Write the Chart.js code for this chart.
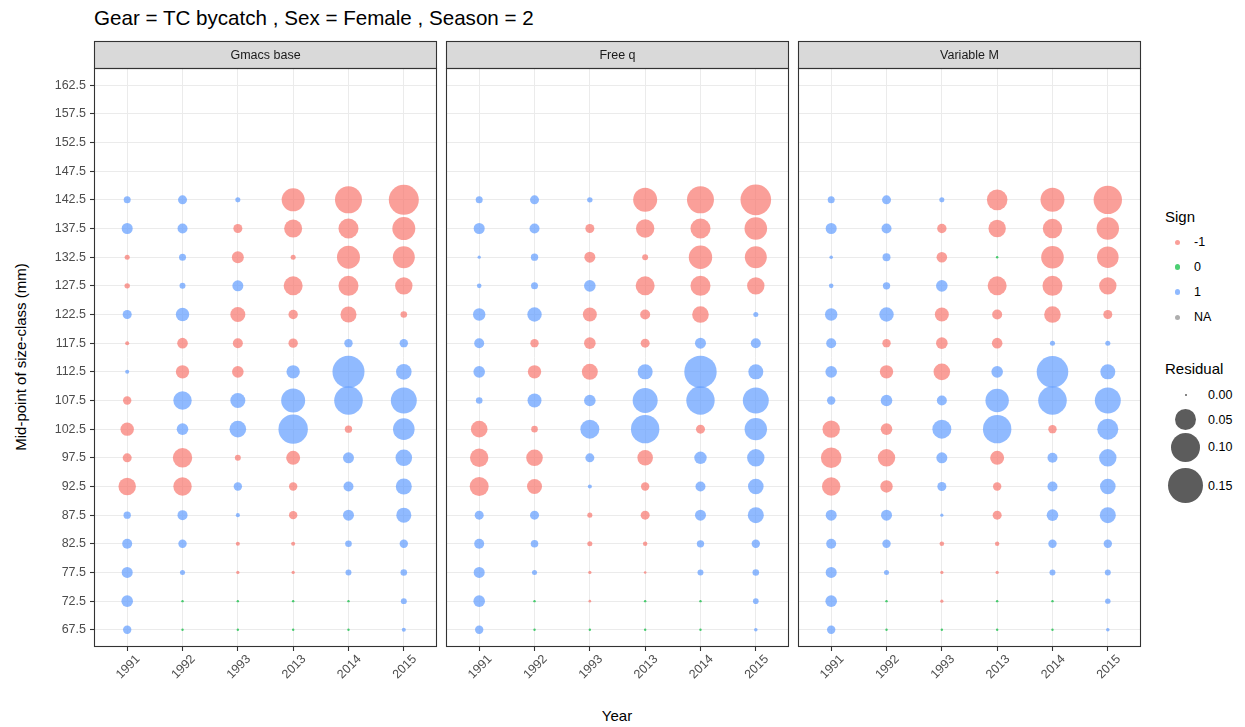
<!DOCTYPE html>
<html>
<head>
<meta charset="utf-8">
<script src="https://cdn.jsdelivr.net/npm/chart.js@4/dist/chart.umd.min.js"></script>
<style>
  body { margin: 0; background: #fff; font-family: "Liberation Sans", Arial, sans-serif; }
  #wrap { position: relative; width: 1245px; height: 727px; overflow: hidden; }
  canvas { position: absolute; }
  .txt { position: absolute; white-space: nowrap; }
  .dot { position: absolute; border-radius: 50%; }
</style>
</head>
<body>
<div id="wrap">
  <div class="txt" style="left:94px; top:7px; font-size:20.6px; line-height:22px; color:#000;">Gear = TC bycatch , Sex = Female , Season = 2</div>
  <div class="txt" style="left:20px; top:357px; font-size:15px; color:#000; transform:translate(-50%,-50%) rotate(-90deg);">Mid-point of size-class (mm)</div>
  <div class="txt" style="left:617px; top:715px; font-size:15px; color:#000; transform:translate(-50%,-50%);">Year</div>
  <canvas id="panel0" width="439" height="657" style="left:0px; top:40px;"></canvas>
  <canvas id="panel1" width="347" height="657" style="left:444px; top:40px;"></canvas>
  <canvas id="panel2" width="347" height="657" style="left:796px; top:40px;"></canvas>
  <div id="legend"></div>
</div>
<script>
// Categories
const years = ['1991', '1992', '1993', '2013', '2014', '2015'];
const sizeTicks = [67.5, 72.5, 77.5, 82.5, 87.5, 92.5, 97.5, 102.5, 107.5, 112.5, 117.5, 122.5, 127.5, 132.5, 137.5, 142.5, 147.5, 152.5, 157.5, 162.5];
// rows of the residual tables (top to bottom)
const binMids = [142.5, 137.5, 132.5, 127.5, 122.5, 117.5, 112.5, 107.5, 102.5, 97.5, 92.5, 87.5, 82.5, 77.5, 72.5, 67.5];
const panelNames = ['Gmacs base', 'Free q', 'Variable M'];

// Signed residuals, one row per size class, one column per year
const gmacsBase = [
    [0.003, 0.0062, 0.001, -0.060, -0.086, -0.108],
    [0.0105, 0.0082, -0.0062, -0.0345, -0.0439, -0.060],
    [-0.001, 0.003, -0.013, -0.001, -0.060, -0.0544],
    [-0.0013, 0.0018, 0.0105, -0.039, -0.0439, -0.0319],
    [0.0062, 0.0171, -0.0225, -0.0069, -0.0262, -0.0025],
    [-0.0004, -0.0095, -0.0082, -0.0069, 0.0051, 0.0051],
    [0.0004, -0.0171, -0.012, 0.0171, 0.1242, 0.0247],
    [-0.0051, 0.0363, 0.0225, 0.0661, 0.0973, 0.0789],
    [-0.0171, 0.012, 0.0286, 0.1033, -0.0035, 0.0522],
    [-0.0062, -0.041, -0.0018, -0.019, 0.0105, 0.0286],
    [-0.0319, -0.0363, 0.0051, -0.0051, 0.0082, 0.0262],
    [0.0035, 0.0082, 0.0004, -0.0051, 0.0105, 0.0225],
    [0.0082, 0.0051, -0.0004, -0.0004, 0.0025, 0.0051],
    [0.0105, 0.001, -0.0001, -0.0001, 0.0018, 0.0025],
    [0.012, 0, 0, 0, 0, 0.0018],
    [0.0051, 0, 0, 0, 0, 0.0004]
];

const freeQ = [
    [0.003, 0.0062, 0.0013, -0.0661, -0.0858, -0.1127],
    [0.0105, 0.0082, -0.0062, -0.0363, -0.0439, -0.0578],
    [0.0001, 0.0035, -0.0105, -0.0018, -0.0625, -0.0544],
    [0.0007, 0.003, 0.012, -0.039, -0.0439, -0.0319],
    [0.0142, 0.0204, -0.019, -0.0082, -0.0286, 0.001],
    [0.0082, -0.0051, -0.012, -0.0062, 0.0105, 0.0082],
    [0.012, -0.0171, -0.0262, 0.0225, 0.1276, 0.0225],
    [0.0025, 0.019, 0.012, 0.0724, 0.0958, 0.0789],
    [-0.0286, -0.0025, 0.039, 0.0958, -0.0062, 0.0567],
    [-0.0363, -0.0286, 0.0062, -0.0247, 0.0142, 0.0319],
    [-0.039, -0.0225, 0.0004, -0.0051, 0.0082, 0.0247],
    [0.0062, 0.0062, -0.001, -0.0062, 0.0105, 0.0262],
    [0.0082, 0.0038, -0.001, -0.0006, 0.0035, 0.0051],
    [0.0105, 0.001, -0.0001, -0.00001, 0.0018, 0.0025],
    [0.012, 0, -0.00001, 0, 0, 0.0015],
    [0.0051, 0, 0, 0, 0, 0.0002]
];

const variableM = [
    [0.003, 0.0062, 0.001, -0.0469, -0.0661, -0.0958],
    [0.0105, 0.0082, -0.0069, -0.0319, -0.041, -0.0567],
    [0.0002, 0.0044, -0.0095, 0, -0.0578, -0.0522],
    [0.0007, 0.0035, 0.012, -0.039, -0.0439, -0.0319],
    [0.0142, 0.0204, -0.019, -0.0082, -0.0286, -0.0062],
    [0.0082, -0.0051, -0.012, -0.0095, 0.001, 0.001],
    [0.012, -0.0171, -0.0286, 0.012, 0.1208, 0.0225],
    [0.0051, 0.012, 0.0082, 0.0625, 0.0973, 0.0789],
    [-0.0319, -0.012, 0.039, 0.0958, -0.0051, 0.049],
    [-0.0469, -0.0319, 0.0105, -0.019, 0.0082, 0.0319],
    [-0.0363, -0.0142, 0.0062, -0.0051, 0.0082, 0.0247],
    [0.0105, 0.0105, 0.0001, -0.0062, 0.012, 0.0262],
    [0.0082, 0.0051, -0.0007, -0.0006, 0.0051, 0.0051],
    [0.0105, 0.001, -0.0001, -0.0001, 0.0018, 0.0018],
    [0.012, 0, -0.0001, 0, 0, 0.0013],
    [0.0051, 0, 0, 0, 0, 0.0002]
];

const legendSizes = [0.00, 0.05, 0.10, 0.15];
const signLabels = ['-1', '0', '1', 'NA'];
const signColors = ['rgba(248,118,109,0.7)', 'rgba(0,186,56,0.7)', 'rgba(97,156,255,0.7)', 'rgba(140,140,140,0.7)'];

const STRIP_H = 27;
const FONT = '"Liberation Sans", Arial, sans-serif';

// size scale (area proportional to residual)
function rad(v) {
    return 1.2 + 42 * Math.sqrt(Math.abs(v));
}

// strip, panel border and rotated year labels
const panelDecor = {
    id: 'panelDecor',
    afterDraw(chart, args, opts) {
        const { ctx, chartArea: a } = chart;
        const xs = chart.scales.x;
        ctx.save();
        ctx.fillStyle = '#D9D9D9';
        ctx.fillRect(a.left, a.top - STRIP_H, a.right - a.left, STRIP_H);
        ctx.strokeStyle = '#333333';
        ctx.lineWidth = 1.1;
        ctx.strokeRect(a.left + 0.5, a.top - STRIP_H + 0.5, a.right - a.left - 1, STRIP_H);
        ctx.strokeRect(a.left + 0.5, a.top + 0.5, a.right - a.left - 1, a.bottom - a.top - 1);

        ctx.fillStyle = '#1A1A1A';
        ctx.font = '12.5px ' + FONT;
        ctx.textAlign = 'center';
        ctx.textBaseline = 'middle';
        ctx.fillText(opts.title, (a.left + a.right) / 2, a.top - STRIP_H / 2 + 1);

        ctx.fillStyle = '#4D4D4D';
        xs.ticks.forEach(t => {
            const px = xs.getPixelForValue(t.value);
            ctx.save();
            ctx.translate(px + 1, a.bottom + 20);
            ctx.rotate(-Math.PI / 4);
            ctx.fillText(years[t.value], 0, 0);
            ctx.restore();
        });
        ctx.restore();
    }
};

function buildDatasets(table) {
    const neg = [], zero = [], pos = [];
    table.forEach((row, i) => {
        row.forEach((v, j) => {
            const pt = { x: j, y: binMids[i], r: rad(v) };
            if (v < 0) neg.push(pt);
            else if (v > 0) pos.push(pt);
            else zero.push(pt);
        });
    });
    return [
        { label: '-1', data: neg, backgroundColor: signColors[0], borderWidth: 0 },
        { label: '0', data: zero, backgroundColor: signColors[1], borderWidth: 0 },
        { label: '1', data: pos, backgroundColor: signColors[2], borderWidth: 0 }
    ];
}

function createPanel(idx, table) {
    const first = idx === 0;
    const ctx = document.getElementById('panel' + idx);
    return new Chart(ctx, {
        type: 'bubble',
        data: { datasets: buildDatasets(table) },
        plugins: [panelDecor],
        options: {
            responsive: false,
            animation: false,
            events: [],
            layout: { padding: { top: STRIP_H + 1, right: 2, left: 0, bottom: 0 }, autoPadding: false },
            plugins: {
                legend: { display: false },
                tooltip: { enabled: false },
                panelDecor: { title: panelNames[idx] }
            },
            scales: {
                x: {
                    type: 'linear',
                    min: -0.6,
                    max: 5.6,
                    afterBuildTicks: axis => { axis.ticks = years.map((y, i) => ({ value: i })); },
                    afterFit: axis => { axis.height = 50; },
                    ticks: { display: false },
                    grid: { color: '#EBEBEB', lineWidth: 1, drawTicks: true, tickLength: 4, tickColor: '#333333', tickWidth: 1.1 },
                    border: { display: false }
                },
                y: {
                    type: 'linear',
                    min: 64.5,
                    max: 165.5,
                    afterBuildTicks: axis => { axis.ticks = sizeTicks.map(v => ({ value: v })); },
                    afterFit: axis => { axis.width = first ? 94 : 2; },
                    ticks: {
                        display: first,
                        padding: 4,
                        color: '#4D4D4D',
                        font: { family: FONT, size: 12.5 },
                        callback: v => v.toFixed(1)
                    },
                    grid: { color: '#EBEBEB', lineWidth: 1, drawTicks: first, tickLength: 4, tickColor: '#333333', tickWidth: 1.1 },
                    border: { display: false }
                }
            }
        }
    });
}

[gmacsBase, freeQ, variableM].forEach((t, i) => createPanel(i, t));

// Legend (HTML)
function buildLegend() {
    const lg = document.getElementById('legend');
    let html = '';
    html += `<div class="txt" style="left:1165px; top:208px; font-size:15px; line-height:18px;">Sign</div>`;
    const signY = [242.3, 266.9, 291.9, 317.3];
    signLabels.forEach((lab, i) => {
        const r = 2.7;
        html += `<div class="dot" style="left:${1177.7 - r}px; top:${signY[i] - r}px; width:${2 * r}px; height:${2 * r}px; background:${signColors[i]};"></div>`;
        html += `<div class="txt" style="left:1194px; top:${signY[i] - 8}px; font-size:12.5px; line-height:16px; color:#000;">${lab}</div>`;
    });
    html += `<div class="txt" style="left:1165px; top:360px; font-size:15px; line-height:18px;">Residual</div>`;
    const sizeY = [395, 419.5, 447.3, 485.5];
    legendSizes.forEach((v, i) => {
        const r = rad(v);
        html += `<div class="dot" style="left:${1185.7 - r}px; top:${sizeY[i] - r}px; width:${2 * r}px; height:${2 * r}px; background:rgba(0,0,0,0.64);"></div>`;
        html += `<div class="txt" style="left:1208px; top:${sizeY[i] - 8}px; font-size:12.5px; line-height:16px; color:#000;">${v.toFixed(2)}</div>`;
    });
    lg.innerHTML = html;
}
buildLegend();
</script>
</body>
</html>
